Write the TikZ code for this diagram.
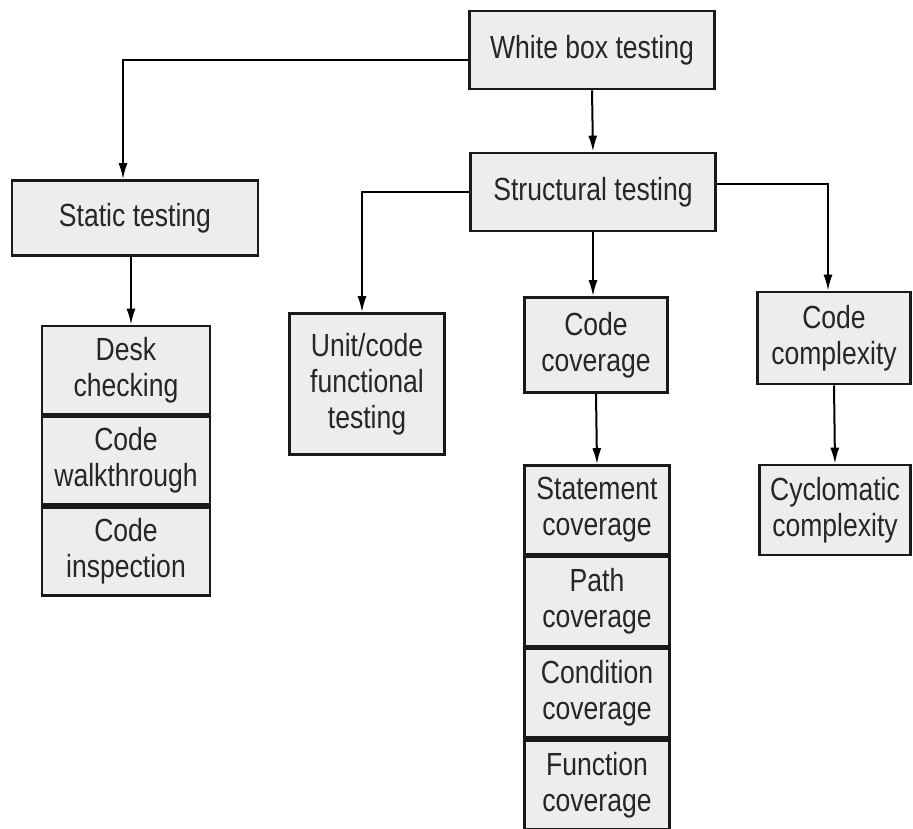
\documentclass[tikz,border=0pt]{standalone}
\usepackage{fontspec}
\setmainfont{Liberation Sans}[FakeStretch=0.83]
\usetikzlibrary{positioning,arrows.meta}
\tikzset{
  box/.style={draw=black!90, line width=2.6pt, fill=gray!14, align=center,
    inner sep=0pt, text=black!85, font=\fontsize{32}{36}\selectfont},
  arr/.style={line width=2pt, -{Latex[length=16pt,width=9pt]}}
}
\begin{document}
\begin{tikzpicture}[x=1pt,y=-1pt]
    \useasboundingbox (0,0) rectangle (913,829);
    % top levels
    \node[box, minimum width=245, minimum height=78] (white) at (592,50) {White box testing};
    \node[box, minimum width=245, minimum height=78] (struct) at (593,192) {Structural testing};
    \node[box, minimum width=246, minimum height=75] (static) at (135,218) {Static testing};
    % static testing stack
    \node[box, minimum width=168, minimum height=88] (desk) at (126,370) {Desk\\checking};
    \node[box, minimum width=168, minimum height=88, below=0pt of desk] (walk) {Code\\walkthrough};
    \node[box, minimum width=168, minimum height=88, below=0pt of walk] (insp) {Code\\inspection};
    % structural testing children
    \node[box, minimum width=155, minimum height=141] (unit) at (367,384) {Unit/code\\functional\\testing};
    \node[box, minimum width=143, minimum height=95] (cov) at (596,345) {Code\\coverage};
    \node[box, minimum width=153, minimum height=92] (cplx) at (834,338) {Code\\complexity};
    % coverage stack
    \node[box, minimum width=145, minimum height=89] (stmt) at (597,510) {Statement\\coverage};
    \node[box, minimum width=145, minimum height=89, below=0pt of stmt] (path) {Path\\coverage};
    \node[box, minimum width=145, minimum height=89, below=0pt of path] (cond) {Condition\\coverage};
    \node[box, minimum width=145, minimum height=89, below=0pt of cond] (func) {Function\\coverage};
    \node[box, minimum width=151, minimum height=90] (cyclo) at (835,510) {Cyclomatic\\complexity};
    % connectors
    \draw[arr] ([yshift=-10pt]white.west) -| ([xshift=-12pt]static.north);
    \draw[arr] (white.south) -- (struct.north);
    \draw[arr] ([xshift=-4pt]static.south) -- ([xshift=-4pt]static.south |- desk.north);
    \draw[arr] (struct.west) -| ([xshift=-5pt]unit.north);
    \draw[arr] (struct.south) -- (struct.south |- cov.north);
    \draw[arr] ([yshift=8pt]struct.east) -| ([xshift=-6pt]cplx.north);
    \draw[arr] (cov.south) -- (stmt.north);
    \draw[arr] (cplx.south) -- (cyclo.north);
\end{tikzpicture}
\end{document}
